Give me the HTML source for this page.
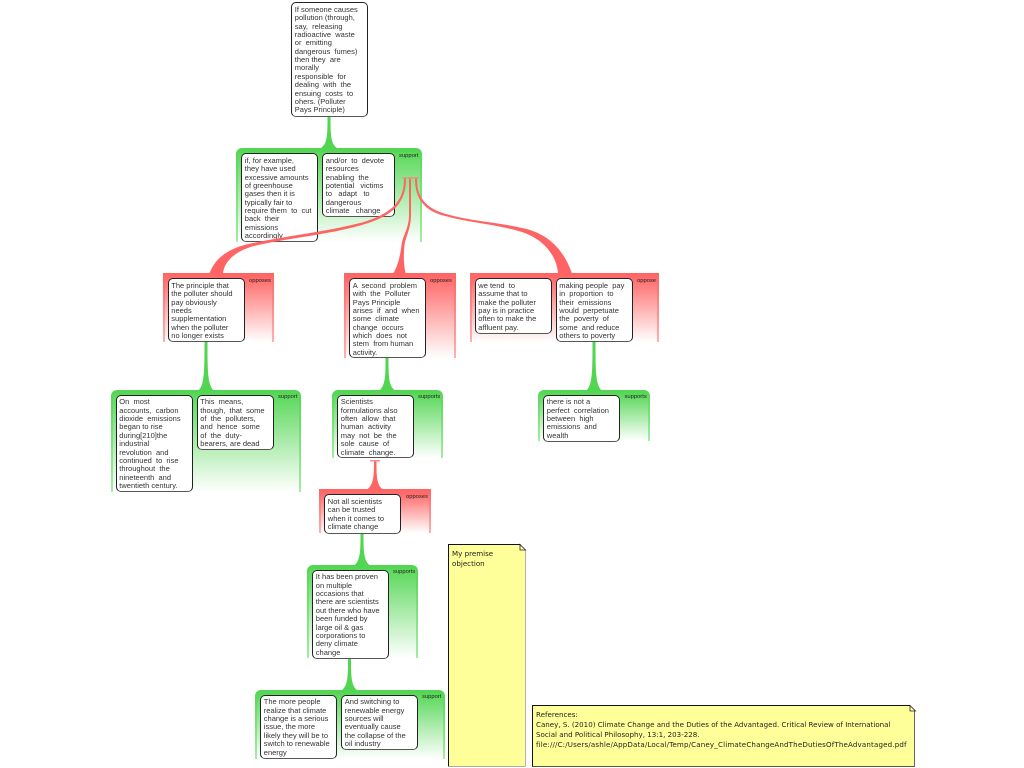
<!DOCTYPE html>
<html>
<head>
<meta charset="utf-8">
<style>
html,body{margin:0;padding:0;background:#fff;}
body{position:relative;width:1024px;height:768px;overflow:hidden;font-family:"Liberation Sans",sans-serif;}
#w{position:absolute;left:0;top:0;width:1024px;height:768px;filter:blur(0.3px);}
.g,.r{position:absolute;box-sizing:border-box;border-style:solid;border-color:transparent;border-width:4px 2px 0 2px;}
.g{border-radius:6px 6px 0 0;background:linear-gradient(#5ad85a,#fff) padding-box,linear-gradient(#52d652,#a4eca4) border-box;}
.r{background:linear-gradient(#ff6868,#fff) padding-box,linear-gradient(#ff6464,#ffb0b0) border-box;}
.b{position:absolute;box-sizing:border-box;background:#fff;border:1.3px solid #222;border-bottom:1.8px solid #555;border-radius:5px;padding:2.8px 0 0 2.8px;font-size:7.5px;line-height:8.37px;color:#333;white-space:pre;overflow:hidden;}
.l{position:absolute;font-size:5.8px;line-height:7px;color:#222;white-space:pre;}
.n{position:absolute;box-sizing:border-box;background:#ffff99;border:1.5px solid #111;border-right:1.5px solid #666;border-bottom:1.5px solid #555;font-family:"DejaVu Sans",sans-serif;font-size:7.1px;line-height:10.2px;color:#222;white-space:pre;padding:3.5px 0 0 3px;}
svg{position:absolute;left:0;top:0;}
</style>
</head>
<body>
<div id="w">

<div class="g" style="left:236px;top:148px;width:186px;height:94px"></div>
<div class="r" style="left:162.5px;top:273px;width:111px;height:69px"></div>
<div class="r" style="left:344px;top:273px;width:112px;height:85px"></div>
<div class="r" style="left:470px;top:273px;width:189px;height:69px"></div>
<div class="g" style="left:110.5px;top:390px;width:190.5px;height:102px"></div>
<div class="g" style="left:332px;top:390px;width:111px;height:68px"></div>
<div class="g" style="left:538px;top:390px;width:112px;height:51px"></div>
<div class="r" style="left:319px;top:489px;width:112px;height:44px"></div>
<div class="g" style="left:307px;top:565px;width:111px;height:93px"></div>
<div class="g" style="left:255px;top:690px;width:190px;height:69px"></div>

<svg width="1024" height="768" viewBox="0 0 1024 768">
  <g fill="#52d652">
    <path d="M327.500 116H330.500C330.500 134 330.500 145 338 148.500H320C327.500 145 327.500 134 327.500 116Z"/>
    <path d="M204.500 342H207.500C207.500 370 207.500 386 214 390.500H198C204.500 386 204.500 370 204.500 342Z"/>
    <path d="M385.500 358H388.500C388.500 375 388.500 386 395 390.500H379C385.500 386 385.500 375 385.500 358Z"/>
    <path d="M592.500 342H595.500C595.500 370 595.500 386 602 390.500H586C592.500 386 592.500 370 592.500 342Z"/>
    <path d="M360.500 533H363.500C363.500 550 363.500 561 370 565.500H354C360.500 561 360.500 550 360.500 533Z"/>
    <path d="M348 658H351C351 675 351 686 357.500 690.500H341.500C348 686 348 675 348 658Z"/>
  </g>
  <path d="M374 461H376.500C376.500 476 376.500 485 383 489.500H367C373.500 485 374 476 374 461Z" fill="#ff6464"/>
</svg>

<div class="b" style="left:291px;top:2px;width:77px;height:114.500px">If someone causes
pollution (through,
say,  releasing
radioactive  waste
or  emitting
dangerous  fumes)
then they  are
morally
responsible  for
dealing  with  the
ensuing  costs  to
ohers. (Polluter
Pays Principle)</div>
<div class="l" style="left:399px;top:152.500px">support</div>
<div class="b" style="left:241px;top:153px;width:77px;height:89px">if, for example,
they have used
excessive amounts
of greenhouse
gases then it is
typically fair to
require them  to  cut
back  their
emissions
accordingly</div>
<div class="b" style="left:322px;top:153px;width:73px;height:63.500px">and/or  to  devote
resources
enabling  the
potential   victims
to   adapt   to
dangerous
climate   change</div>

<div class="l" style="left:249px;top:277.500px">opposes</div>
<div class="b" style="left:167.500px;top:278px;width:77px;height:64px">The principle that
the polluter should
pay obviously
needs
supplementation
when the polluter
no longer exists</div>

<div class="l" style="left:430px;top:277.500px">opposes</div>
<div class="b" style="left:349px;top:278px;width:77px;height:80px">A  second  problem
with  the  Polluter
Pays Principle
arises  if  and  when
some  climate
change  occurs
which  does  not
stem  from human
activity.</div>

<div class="l" style="left:637px;top:277.500px">oppose</div>
<div class="b" style="left:474.500px;top:278px;width:77px;height:55.500px">we tend  to
assume that to
make the polluter
pay is in practice
often to make the
affluent pay.</div>
<div class="b" style="left:555.500px;top:278px;width:77px;height:64px">making people  pay
in  proportion  to
their  emissions
would  perpetuate
the  poverty  of
some  and reduce
others to poverty</div>

<div class="l" style="left:278px;top:394px">support</div>
<div class="b" style="left:115.500px;top:394.500px;width:77px;height:97.500px">On  most
accounts,  carbon
dioxide  emissions
began to rise
during[210]the
industrial
revolution  and
continued  to  rise
throughout  the
nineteenth  and
twentieth century.</div>
<div class="b" style="left:196.500px;top:394.500px;width:77px;height:55.500px">This  means,
though,  that  some
of  the  polluters,
and  hence  some
of  the  duty-
bearers, are dead</div>

<div class="l" style="left:418px;top:394px">supports</div>
<div class="b" style="left:337px;top:394.500px;width:77px;height:63.500px">Scientists
formulations also
often  allow  that
human  activity
may  not  be  the
sole  cause  of
climate  change.</div>

<div class="l" style="left:624.500px;top:394px">supports</div>
<div class="b" style="left:543px;top:394.500px;width:77px;height:47px">there is not a
perfect  correlation
between  high
emissions  and
wealth</div>

<div class="l" style="left:406px;top:494px">opposes</div>
<div class="b" style="left:324px;top:494px;width:77px;height:39.500px">Not all scientists
can be trusted
when it comes to
climate change</div>

<div class="l" style="left:393px;top:569px">supports</div>
<div class="b" style="left:312px;top:569.500px;width:77px;height:89px">It has been proven
on multiple
occasions that
there are scientists
out there who have
been funded by
large oil &amp; gas
corporations to
deny climate
change</div>

<div class="l" style="left:422px;top:694px">support</div>
<div class="b" style="left:260px;top:694.500px;width:77px;height:64px">The more people
realize that climate
change is a serious
issue, the more
likely they will be to
switch to renewable
energy</div>
<div class="b" style="left:341px;top:694.500px;width:77px;height:55.500px">And switching to
renewable energy
sources will
eventually cause
the collapse of the
oil industry</div>

<svg width="1024" height="768" viewBox="0 0 1024 768">
  <g fill="#ff6464">
    <path d="M404 179C404 204 388 215 360 223C325 232 285 236 248 244C228 249 215 258 209.500 273.500H223C224 262 234 252 252 246.500C287 238 327 235 362 225C390 217 406 205 406 179Z"/>
    <path d="M409 179V215C409 228 403 235 401.500 245C400 258 397 268 393 273.500H405.700C403.500 265 403.500 255 404.500 245C406 236 411 228 411 215V179Z"/>
    <path d="M415 179C415 198 424 211 445 216C470 223 496 224 522 232C546 240 557 258 558 273.500H572C564 250 548 233 522 228C496 222 470 221 446 214C425 208 417 197 417 179Z"/>
  </g>
  <g fill="#d99a80">
    <rect x="402.500" y="177" width="5" height="2"/>
    <rect x="408" y="177" width="5" height="2"/>
    <rect x="413.500" y="177" width="5" height="2"/>
  </g>
  <rect x="370" y="460" width="10" height="1.500" fill="#ff8a8a"/>
</svg>

<div class="n" style="left:448px;top:544px;width:77.500px;height:222.500px;clip-path:polygon(0 0,93% 0,100% 3%,100% 100%,0 100%)">My premise
objection</div>
<div class="n" style="left:532px;top:705px;width:383px;height:62px;clip-path:polygon(0 0,98.600% 0,100% 8%,100% 100%,0 100%)">References:
Caney, S. (2010) Climate Change and the Duties of the Advantaged. Critical Review of International
Social and Political Philosophy, 13:1, 203-228.
<span style="letter-spacing:0.15px">file:///C:/Users/ashle/AppData/Local/Temp/Caney_ClimateChangeAndTheDutiesOfTheAdvantaged.pdf</span></div>
<svg width="1024" height="768" viewBox="0 0 1024 768">
  <path d="M520 544.500L525.500 550H520Z" fill="#ffffcc" stroke="#222" stroke-width="0.800"/>
  <path d="M910 705.500L915.500 711H910Z" fill="#ffffcc" stroke="#222" stroke-width="0.800"/>
</svg>

</div>
</body>
</html>
